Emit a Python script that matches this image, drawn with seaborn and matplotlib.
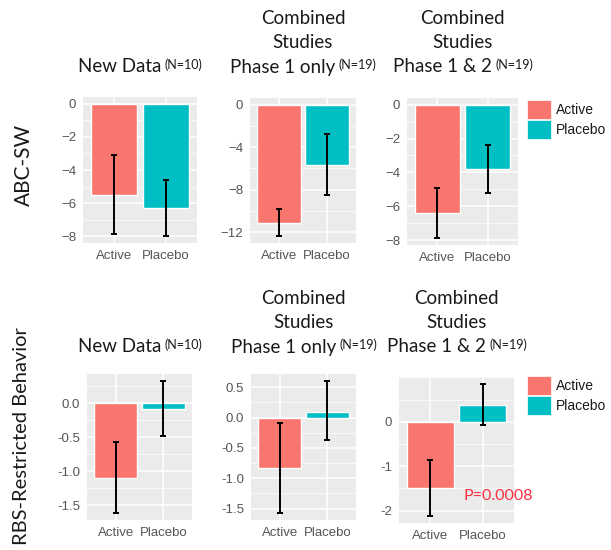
"""ABC-SW and RBS change from baseline, active vs placebo, three study sets"""
import matplotlib
matplotlib.use("Agg")
import matplotlib.pyplot as plt
from matplotlib.patches import Patch
from matplotlib.ticker import AutoMinorLocator
import numpy as np
import pandas as pd
import seaborn as sns


GROUPS = ["Active", "Placebo"]
PALETTE = {"Active": "#F8766D", "Placebo": "#00BFC4"}

# ABC-SW: mean change, error bar low / high
ABC_MEAN = [[-5.5, -6.3], [-11.1, -5.65], [-6.42, -3.8]]
ABC_LOW = [[-7.85, -8.0], [-12.4, -8.5], [-7.9, -5.25]]
ABC_HIGH = [[-3.1, -4.6], [-9.8, -2.8], [-4.95, -2.38]]
ABC_TICKS = [[0, -2, -4, -6, -8], [0, -4, -8, -12], [0, -2, -4, -6, -8]]

# RBS restricted behavior
RBS_MEAN = [[-1.1, -0.09], [-0.83, 0.1], [-1.5, 0.37]]
RBS_LOW = [[-1.62, -0.49], [-1.58, -0.37], [-2.13, -0.07]]
RBS_HIGH = [[-0.57, 0.33], [-0.09, 0.61], [-0.86, 0.86]]
RBS_TICKS = [[0.0, -0.5, -1.0, -1.5], [0.5, 0.0, -0.5, -1.0, -1.5], [0, -1, -2]]
RBS_TICKLABELS = [["0.0", "-0.5", "-1.0", "-1.5"],
                  ["0.5", "0.0", "-0.5", "-1.0", "-1.5"],
                  ["0", "-1", "-2"]]

TITLES = [["New Data"],
          ["Combined", "Studies", "Phase 1 only"],
          ["Combined", "Studies", "Phase 1 & 2"]]
SUPS = ["(N=10)", "(N=19)", "(N=19)"]
ROW_LABELS = ["ABC-SW", "RBS-Restricted Behavior"]
P_TEXT = "P=0.0008"

W, H = 611, 550
TITLE_FONT = "Lato"
TICK_FONT = "Liberation Sans"


def px_box(l, t, r, b):
    return [l / W, 1 - b / H, (r - l) / W, (b - t) / H]


def bar_panel(ax, means, low, high, ticks, ticklabels=None):
    df = pd.DataFrame({"group": GROUPS, "change": means})
    sns.barplot(data=df, x="group", y="change", hue="group", palette=PALETTE,
                width=0.9, saturation=1, errorbar=None, legend=False, ax=ax)
    means = np.array(means)
    yerr = [means - np.array(low), np.array(high) - means]
    ax.errorbar(x=[0, 1], y=means, yerr=yerr, fmt="none", ecolor="black",
                elinewidth=1.4, capsize=2, capthick=1.4, zorder=5)
    lo = min(0, min(low))
    hi = max(0, max(high))
    pad = (hi - lo) * 0.05
    ax.set_ylim(lo - pad, hi + pad)
    ax.set_xlim(-0.6, 1.6)
    ax.set_yticks(ticks)
    if ticklabels:
        ax.set_yticklabels(ticklabels)
    ax.yaxis.set_minor_locator(AutoMinorLocator(2))
    ax.set_facecolor("#EBEBEB")
    ax.grid(True, which="major", color="white", linewidth=1.1)
    ax.grid(True, which="minor", axis="y", color="white", linewidth=0.5)
    ax.set_axisbelow(True)
    for s in ax.spines.values():
        s.set_visible(False)
    ax.tick_params(which="major", length=3, width=1, color="#333333",
                   labelcolor="#555555", labelsize=9.5, pad=2)
    ax.tick_params(which="minor", length=0)
    for lab in ax.get_xticklabels() + ax.get_yticklabels():
        lab.set_family(TICK_FONT)
    ax.set_xlabel("")
    ax.set_ylabel("")


def title_block(fig, cx, line_ys, lines, sup):
    texts = []
    for y, line in zip(line_ys[-len(lines):], lines):
        t = fig.text(cx / W, 1 - y / H, line, ha="center", va="center",
                     fontsize=13.5, family=TITLE_FONT, color="#1a1a1a")
        texts.append(t)
    last = texts[-1]
    sup_t = plt.annotate(sup, xy=(1.0, 1.0), xycoords=last, xytext=(2.5, 0),
                         textcoords="offset points", ha="left", va="top",
                         fontsize=9, family=TITLE_FONT, color="#1a1a1a",
                         annotation_clip=False)
    return last, sup_t


def plot_figure():
    sns.set_theme(style="darkgrid")
    fig = plt.figure(figsize=(W / 100, H / 100), dpi=100)

    top_boxes = [(83, 97, 197, 243), (250, 98, 356, 243), (407, 98, 518, 245)]
    bot_boxes = [(87, 374, 192, 520), (251, 374, 356, 520), (399, 377, 514, 523)]

    pending = []
    for i, box in enumerate(top_boxes):
        ax = fig.add_axes(px_box(*box))
        plt.sca(ax)
        bar_panel(ax, ABC_MEAN[i], ABC_LOW[i], ABC_HIGH[i], ABC_TICKS[i])
        cx = (box[0] + box[2]) / 2
        pending.append(title_block(fig, cx, [18, 43, 67], TITLES[i], SUPS[i]))

    for i, box in enumerate(bot_boxes):
        ax = fig.add_axes(px_box(*box))
        plt.sca(ax)
        bar_panel(ax, RBS_MEAN[i], RBS_LOW[i], RBS_HIGH[i], RBS_TICKS[i],
                  RBS_TICKLABELS[i])
        cx = (box[0] + box[2]) / 2
        pending.append(title_block(fig, cx, [298, 323, 347], TITLES[i], SUPS[i]))
        if i == 2:
            ax.text(1.29, -1.68, P_TEXT, color="#FF2D3D", fontsize=11.5,
                    family=TITLE_FONT, ha="center", va="center", zorder=6)

    # center each last title line together with its superscript
    fig.canvas.draw()
    renderer = fig.canvas.get_renderer()
    for main, sup in pending:
        w = sup.get_window_extent(renderer).width + 2.5
        x, y = main.get_position()
        main.set_position((x - w / 2 / W, y))

    handles = [Patch(facecolor=PALETTE[g], edgecolor="white", linewidth=0.5,
                     label=g) for g in GROUPS]
    for ytop in (100, 376):
        leg = fig.legend(handles=handles, loc="upper left",
                         bbox_to_anchor=(527 / W, 1 - ytop / H), frameon=False,
                         fontsize=10, handlelength=1.7, handleheight=1.7,
                         labelspacing=0.1, handletextpad=0.35,
                         borderaxespad=0, borderpad=0)
        for t in leg.get_texts():
            t.set_family(TICK_FONT)
            t.set_color("#1a1a1a")

    fig.text(24 / W, 1 - 165 / H, ROW_LABELS[0], rotation=90, ha="center",
             va="center", fontsize=15, family=TITLE_FONT, color="#1a1a1a")
    fig.text(22 / W, 1 - 436 / H, ROW_LABELS[1], rotation=90, ha="center",
             va="center", fontsize=14.5, family=TITLE_FONT, color="#1a1a1a")

    fig.savefig("out.png", dpi=100, facecolor="white")


if __name__ == "__main__":
    plot_figure()
